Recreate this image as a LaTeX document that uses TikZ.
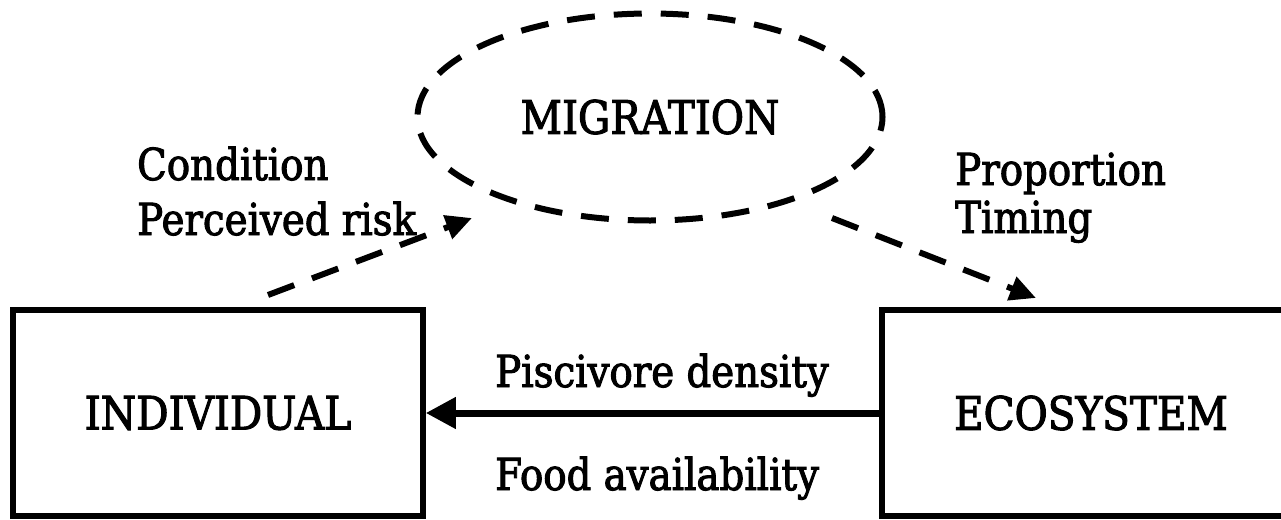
\documentclass[tikz,border=0pt]{standalone}
\usepackage{fontspec}
\setmainfont{DejaVu Serif}[FakeStretch=0.88,FakeBold=2.2]
\usetikzlibrary{arrows.meta,shapes.geometric}
\tikzset{
  lbl/.style={font=\fontsize{44}{52}\selectfont, inner sep=0pt},
  boxnode/.style={draw, line width=5.5pt, minimum width=410pt, minimum height=206pt, font=\fontsize{46}{54}\selectfont, inner sep=0pt},
  dashline/.style={line width=6pt, dash pattern=on 28pt off 19pt},
  tip/.style={-{Triangle[length=26pt,width=24pt]}}
}
\begin{document}
\begin{tikzpicture}[x=1pt,y=-1pt]
\useasboundingbox[fill=white] (0,0) rectangle (1281,519);
\node[boxnode] (ind) at (218,413) {INDIVIDUAL};
\node[boxnode, minimum width=418pt] (eco) at (1091,413) {ECOSYSTEM};
\node[ellipse, draw, dashline, minimum width=465pt, minimum height=207pt, font=\fontsize{46}{54}\selectfont, inner sep=0pt] (mig) at (650,117) {MIGRATION};
\node[lbl, anchor=base west] (cond) at (137,180) {Condition};
\node[lbl, anchor=base west] (risk) at (137,235) {Perceived risk};
\node[lbl, anchor=base west] (prop) at (955,185) {Proportion};
\node[lbl, anchor=base west] (tim) at (955,233) {Timing};
\node[lbl, anchor=base west] (pisc) at (495,387) {Piscivore density};
\node[lbl, anchor=base west] (food) at (495,490) {Food availability};
\coordinate (a1s) at (268,295);
\coordinate (a1e) at (472,218);
\coordinate (a2s) at (832,218);
\coordinate (a2e) at (1036,298);
\draw[dashline, tip] (a1s) -- (a1e);
\draw[dashline, tip] (a2s) -- (a2e);
\draw[line width=7pt, -{Triangle[length=30pt,width=30pt]}] (eco.west) -- (ind.east);
\end{tikzpicture}
\end{document}
